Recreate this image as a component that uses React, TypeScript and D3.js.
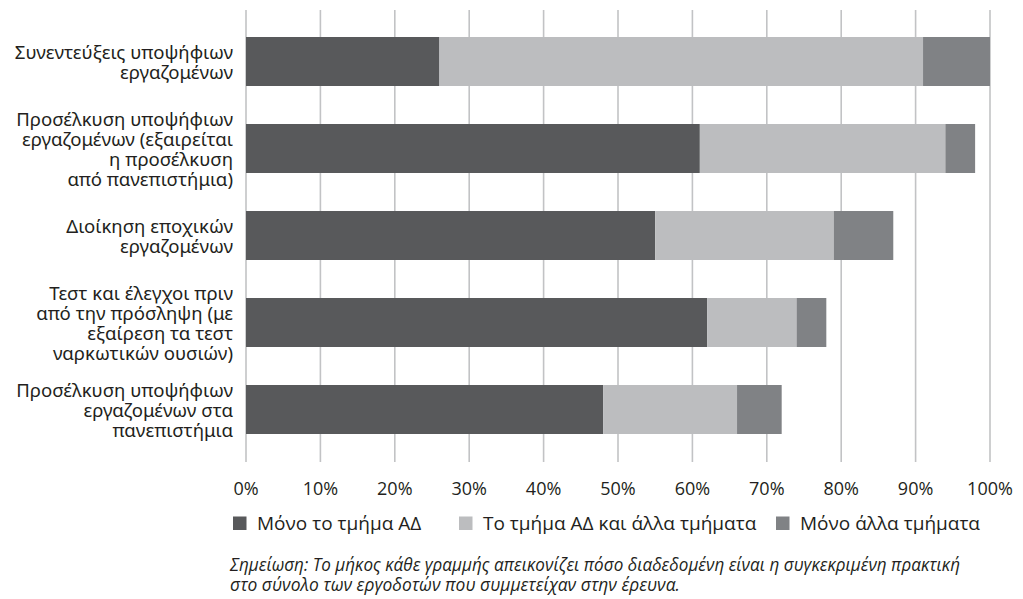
import React from "react";
import * as d3 from "d3";

const categories: string[][] = [
  ["Συνεντεύξεις υποψήφιων", "εργαζομένων"],
  ["Προσέλκυση υποψήφιων", "εργαζομένων (εξαιρείται", "η προσέλκυση", "από πανεπιστήμια)"],
  ["Διοίκηση εποχικών", "εργαζομένων"],
  ["Τεστ και έλεγχοι πριν", "από την πρόσληψη (με", "εξαίρεση τα τεστ", "ναρκωτικών ουσιών)"],
  ["Προσέλκυση υποψήφιων", "εργαζομένων στα", "πανεπιστήμια"],
];

const seriesNames = ["Μόνο το τμήμα ΑΔ", "Το τμήμα ΑΔ και άλλα τμήματα", "Μόνο άλλα τμήματα"];
const onlyHR = [26, 61, 55, 62, 48];
const hrAndOthers = [65, 33, 24, 12, 18];
const onlyOthers = [9, 4, 8, 4, 6];
const ticks = [0, 10, 20, 30, 40, 50, 60, 70, 80, 90, 100];
const noteLines = [
  "Σημείωση: Το μήκος κάθε γραμμής απεικονίζει πόσο διαδεδομένη είναι η συγκεκριμένη πρακτική",
  "στο σύνολο των εργοδοτών που συμμετείχαν στην έρευνα.",
];

const colors = ["#58595b", "#bcbdbf", "#808285"];
const W = 1023;
const H = 599;
const sans = "'Open Sans', sans-serif";
const labelFont = "'Noto Sans', sans-serif";

export default function App() {
  const x = d3.scaleLinear().domain([0, 100]).range([246, 990]);
  const idx = categories.map((_, i) => String(i));
  const y = d3
    .scaleBand<string>()
    .domain(idx)
    .range([18, 453])
    .paddingInner(0.437)
    .paddingOuter(0.2185);

  const rows = categories.map((_, i) => ({
    key: String(i),
    s0: onlyHR[i],
    s1: hrAndOthers[i],
    s2: onlyOthers[i],
  }));
  const stacked = d3.stack<any>().keys(["s0", "s1", "s2"])(rows);

  // legend swatch and label positions
  const legendX = [233, 459, 776];
  const lineH = 20;
  const noteWidths = [730, 450];

  return (
    <svg width={W} height={H} style={{ position: "absolute", left: 0, top: 0, background: "#fff" }}>
      {ticks.map((t) => (
        <line key={t} x1={x(t)} x2={x(t)} y1={10} y2={462} stroke="#c2c3c5" strokeWidth={1.6} />
      ))}
      {stacked.map((layer, li) => (
        <g key={li} fill={colors[li]}>
          {layer.map((d, i) => (
            <rect
              key={i}
              x={x(d[0])}
              y={y(String(i))}
              width={x(d[1]) - x(d[0])}
              height={y.bandwidth()}
            />
          ))}
        </g>
      ))}
      {categories.map((lines, i) => {
        const cy = (y(String(i)) as number) + y.bandwidth() / 2 + 1;
        const top = cy - ((lines.length - 1) * lineH) / 2;
        return (
          <text
            key={i}
            textAnchor="end"
            fontFamily={labelFont}
            fontSize={18.6}
            fill="#231f20"
          >
            {lines.map((l, j) => (
              <tspan key={j} x={233} y={top + j * lineH} dy="0.35em">
                {l}
              </tspan>
            ))}
          </text>
        );
      })}
      {ticks.map((t) => (
        <text
          key={t}
          x={x(t)}
          y={495}
          textAnchor="middle"
          fontFamily={sans}
          fontSize={18}
          fill="#231f20"
        >
          {t}%
        </text>
      ))}
      {seriesNames.map((n, i) => (
        <g key={n}>
          <rect x={legendX[i]} y={516.5} width={13.5} height={13.5} fill={colors[i]} />
          <text
            x={legendX[i] + 24}
            y={530}
            fontFamily={sans}
            fontSize={19}
            fill="#231f20"
          >
            {n}
          </text>
        </g>
      ))}
      {noteLines.map((l, i) => (
        <text
          key={i}
          x={230}
          y={571 + i * 20}
          fontFamily={sans}
          fontStyle="italic"
          fontSize={18}
          textLength={noteWidths[i]}
          lengthAdjust="spacingAndGlyphs"
          fill="#231f20"
        >
          {l}
        </text>
      ))}
    </svg>
  );
}
